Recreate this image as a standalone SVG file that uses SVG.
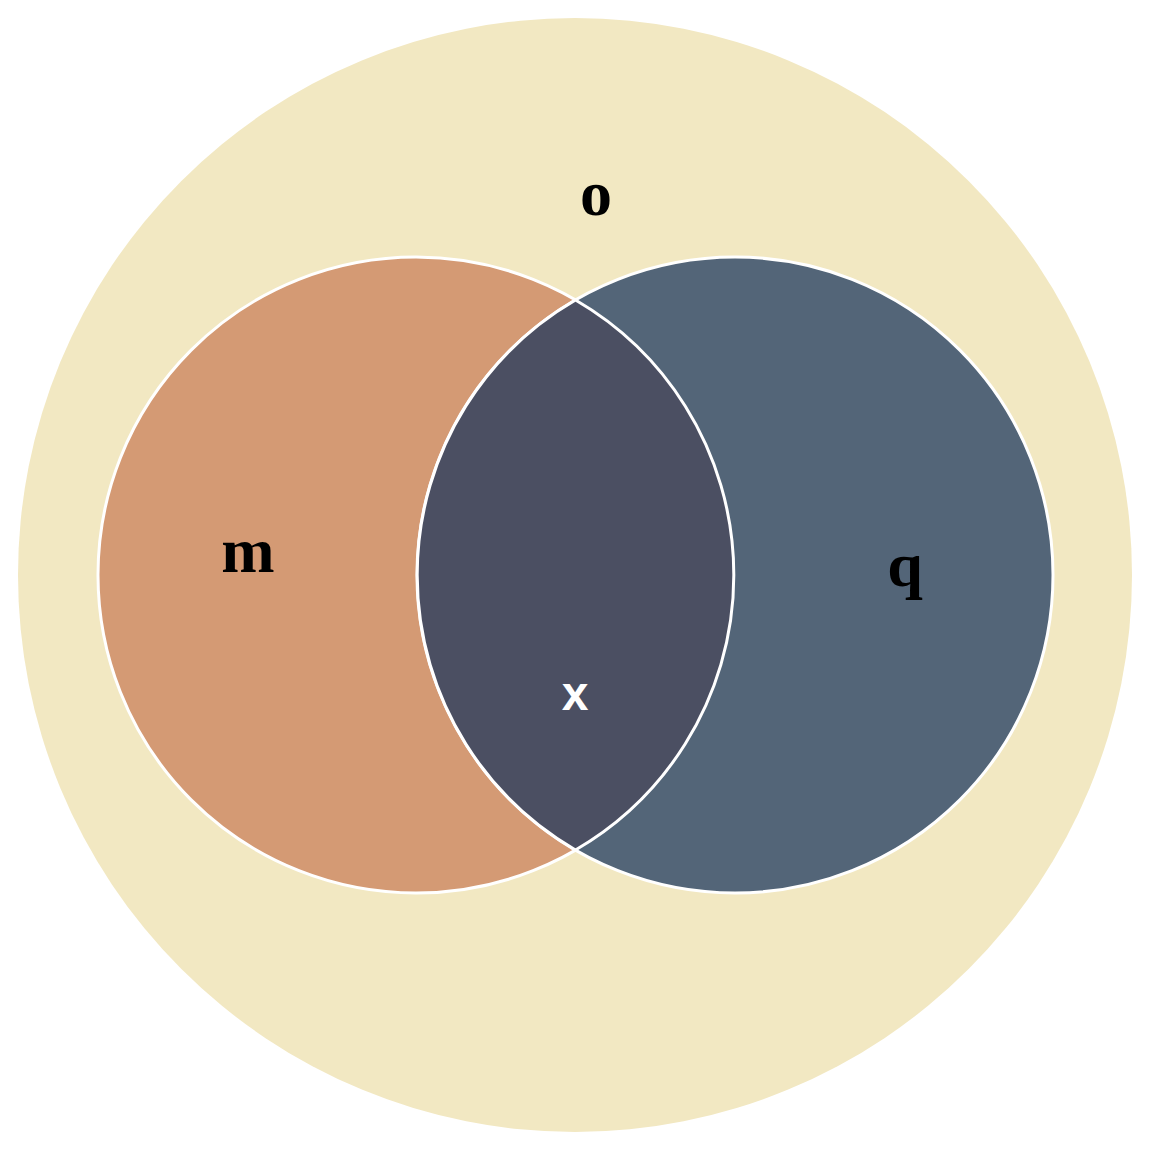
<svg xmlns="http://www.w3.org/2000/svg" width="1152" height="1152" viewBox="0 0 1152 1152">
<style>
.set{stroke:#ffffff;stroke-width:3}
.lbl{font-family:"Liberation Serif","Times New Roman",serif;font-weight:bold;font-size:64px;fill:#000000;text-anchor:middle}
.lblx{font-family:"Liberation Sans",Arial,sans-serif;font-weight:bold;font-size:48px;fill:#ffffff;text-anchor:middle}
</style>
<rect width="1152" height="1152" fill="#ffffff"/>
<g id="o">
<circle cx="575" cy="575" r="557" fill="#F2E8C2"/>
<text class="lbl" x="596" y="215">o</text>
</g>
<g id="m">
<circle class="set" cx="416" cy="575" r="318" fill="#D49A74"/>
</g>
<g id="q">
<circle class="set" cx="735" cy="575" r="318" fill="#536578"/>
</g>
<g id="x">
<path class="set" d="M575.5 300 A318 318 0 0 1 575.5 850 A318 318 0 0 1 575.5 300 Z" fill="#4B4F62"/>
</g>
<g id="labels">
<text class="lbl" x="248" y="572">m</text>
<text class="lbl" x="905" y="586">q</text>
<text class="lblx" x="575" y="710">x</text>
</g>
</svg>
